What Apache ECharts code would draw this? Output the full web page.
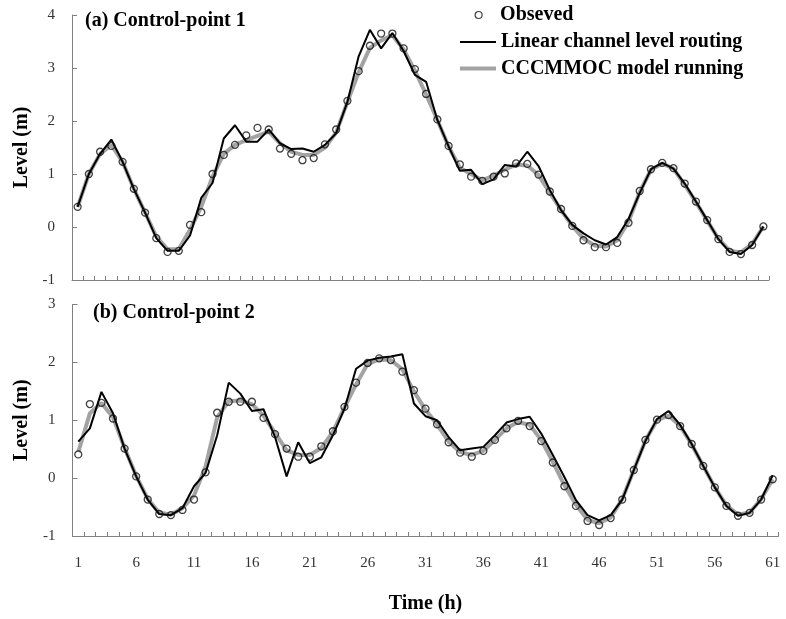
<!DOCTYPE html>
<html>
<head>
<meta charset="utf-8">
<script src="https://cdn.jsdelivr.net/npm/echarts@6/dist/echarts.min.js"></script>
<style>
  html, body { margin: 0; padding: 0; background: #fff; }
  #chart { width: 786px; height: 619px; }
</style>
</head>
<body>
<div id="chart"></div>
<script>
  // time steps (h)
  var hoursA = [1, 2, 3, 4, 5, 6, 7, 8, 9, 10, 11, 12, 13, 14, 15, 16, 17, 18, 19, 20,
    21, 22, 23, 24, 25, 26, 27, 28, 29, 30, 31, 32, 33, 34, 35, 36, 37, 38, 39, 40,
    41, 42, 43, 44, 45, 46, 47, 48, 49, 50, 51, 52, 53, 54, 55, 56, 57, 58, 59, 60, 61, 62];
  var hoursB = [1, 2, 3, 4, 5, 6, 7, 8, 9, 10, 11, 12, 13, 14, 15, 16, 17, 18, 19, 20,
    21, 22, 23, 24, 25, 26, 27, 28, 29, 30, 31, 32, 33, 34, 35, 36, 37, 38, 39, 40,
    41, 42, 43, 44, 45, 46, 47, 48, 49, 50, 51, 52, 53, 54, 55, 56, 57, 58, 59, 60, 61];

  // (a) Control-point 1
  var observedA = [0.38, 1.00, 1.42, 1.53, 1.23, 0.72, 0.27, -0.21, -0.47, -0.45,
    0.04, 0.28, 1.00, 1.36, 1.55, 1.73, 1.87, 1.84, 1.48, 1.38,
    1.26, 1.30, 1.56, 1.84, 2.38, 2.94, 3.42, 3.65, 3.65, 3.37,
    2.98, 2.51, 2.03, 1.53, 1.18, 0.95, 0.87, 0.95, 1.01, 1.20,
    1.19, 0.99, 0.67, 0.34, 0.02, -0.25, -0.38, -0.38, -0.30, 0.08,
    0.68, 1.09, 1.21, 1.11, 0.82, 0.48, 0.13, -0.23, -0.47, -0.51,
    -0.34, 0.01];
  var linearA = [0.38, 1.00, 1.38, 1.65, 1.23, 0.72, 0.27, -0.21, -0.45, -0.45,
    -0.16, 0.55, 0.83, 1.67, 1.92, 1.61, 1.61, 1.84, 1.58, 1.47,
    1.48, 1.42, 1.55, 1.77, 2.36, 3.22, 3.72, 3.37, 3.66, 3.32,
    2.87, 2.74, 2.02, 1.52, 1.06, 1.08, 0.81, 0.90, 1.17, 1.14,
    1.42, 1.15, 0.70, 0.32, 0.04, -0.12, -0.25, -0.33, -0.19, 0.15,
    0.64, 1.09, 1.21, 1.10, 0.82, 0.48, 0.13, -0.23, -0.47, -0.51,
    -0.34, 0.01];
  var modelA = [0.38, 1.00, 1.38, 1.55, 1.23, 0.72, 0.27, -0.18, -0.42, -0.42,
    -0.05, 0.38, 0.95, 1.38, 1.55, 1.64, 1.72, 1.80, 1.58, 1.42,
    1.36, 1.36, 1.50, 1.78, 2.36, 2.92, 3.38, 3.52, 3.62, 3.35,
    2.95, 2.50, 2.02, 1.52, 1.12, 1.00, 0.88, 0.97, 1.08, 1.18,
    1.16, 0.98, 0.65, 0.32, 0.02, -0.22, -0.35, -0.37, -0.25, 0.10,
    0.66, 1.08, 1.20, 1.10, 0.80, 0.47, 0.12, -0.22, -0.45, -0.48,
    -0.32, 0.01];

  // (b) Control-point 2
  var observedB = [0.41, 1.28, 1.30, 1.03, 0.51, 0.03, -0.37, -0.62, -0.64, -0.55,
    -0.37, 0.10, 1.13, 1.32, 1.32, 1.32, 1.04, 0.76, 0.51, 0.37,
    0.37, 0.55, 0.81, 1.23, 1.65, 1.99, 2.07, 2.04, 1.84, 1.52,
    1.20, 0.93, 0.62, 0.44, 0.37, 0.47, 0.66, 0.86, 0.99, 0.90,
    0.64, 0.27, -0.14, -0.48, -0.74, -0.81, -0.69, -0.37, 0.14, 0.66,
    1.01, 1.09, 0.90, 0.59, 0.21, -0.16, -0.48, -0.65, -0.60, -0.37,
    -0.02];
  var linearB = [0.63, 0.86, 1.49, 1.12, 0.51, 0.03, -0.37, -0.62, -0.64, -0.52,
    -0.14, 0.09, 0.74, 1.65, 1.46, 1.16, 1.19, 0.71, 0.03, 0.62,
    0.26, 0.36, 0.74, 1.20, 1.89, 2.03, 2.08, 2.10, 2.14, 1.29,
    1.07, 1.00, 0.71, 0.48, 0.51, 0.54, 0.74, 0.96, 1.02, 1.06,
    0.77, 0.40, 0.02, -0.38, -0.64, -0.73, -0.64, -0.37, 0.14, 0.64,
    1.02, 1.16, 0.92, 0.59, 0.21, -0.16, -0.48, -0.65, -0.60, -0.37,
    0.05];
  var modelB = [0.45, 1.12, 1.30, 1.05, 0.52, 0.04, -0.36, -0.60, -0.63, -0.52,
    -0.30, 0.20, 1.05, 1.33, 1.34, 1.28, 1.08, 0.78, 0.48, 0.40,
    0.40, 0.52, 0.80, 1.22, 1.62, 1.97, 2.05, 2.04, 1.88, 1.50,
    1.18, 0.93, 0.63, 0.45, 0.40, 0.47, 0.66, 0.86, 0.97, 0.92,
    0.66, 0.28, -0.12, -0.46, -0.72, -0.78, -0.68, -0.36, 0.14, 0.65,
    1.00, 1.08, 0.90, 0.58, 0.21, -0.16, -0.47, -0.63, -0.60, -0.36,
    -0.02];

  var serif = 'Liberation Serif';
  var axisGray = '#808080';
  var modelGray = '#a3a3a3';

  function xAxisFor(gridIndex, cats, showLabels) {
    return {
      type: 'category',
      gridIndex: gridIndex,
      data: cats,
      boundaryGap: true,
      axisLine: { onZero: false, lineStyle: { color: axisGray, width: 1 } },
      axisTick: { show: true, inside: true, length: 4, interval: 0, lineStyle: { color: axisGray } },
      axisLabel: {
        show: showLabels, interval: 4, margin: 20,
        fontFamily: serif, fontSize: 15, color: '#333'
      },
      name: showLabels ? 'Time (h)' : '',
      nameLocation: 'middle',
      nameGap: 58,
      nameTextStyle: { fontFamily: serif, fontSize: 20, fontWeight: 'bold', color: '#000' },
      splitLine: { show: false }
    };
  }

  function yAxisFor(gridIndex, max) {
    return {
      type: 'value',
      gridIndex: gridIndex,
      min: -1,
      max: max,
      interval: 1,
      axisLine: { show: true, lineStyle: { color: axisGray, width: 1 } },
      axisTick: { show: true, inside: true, length: 5, lineStyle: { color: axisGray } },
      axisLabel: { margin: 17, fontFamily: serif, fontSize: 15, color: '#333' },
      splitLine: { show: false },
      name: 'Level (m)',
      nameLocation: 'middle',
      nameGap: 38,
      nameTextStyle: { fontFamily: serif, fontSize: 20, fontWeight: 'bold', color: '#000' }
    };
  }

  function panelSeries(idx, obs, lin, mod) {
    return [
      {
        name: 'CCCMMOC model running', type: 'line', xAxisIndex: idx, yAxisIndex: idx,
        data: mod, symbol: 'none',
        itemStyle: { color: modelGray },
        lineStyle: { color: modelGray, width: 4 }, z: 2
      },
      {
        name: 'Linear channel level routing', type: 'line', xAxisIndex: idx, yAxisIndex: idx,
        data: lin, symbol: 'none',
        itemStyle: { color: '#000' },
        lineStyle: { color: '#000', width: 2 }, z: 3
      },
      {
        name: 'Obseved', type: 'scatter', xAxisIndex: idx, yAxisIndex: idx,
        data: obs, symbol: 'circle', symbolSize: 7,
        itemStyle: { color: 'rgba(255,255,255,0)', borderColor: '#111', borderWidth: 1.3 }, z: 4
      }
    ];
  }

  var chart = echarts.init(document.getElementById('chart'), null, { renderer: 'canvas' });
  chart.setOption({
    animation: false,
    backgroundColor: '#fff',
    title: [
      { text: '(a) Control-point 1', left: 85, top: 11, padding: 0,
        textStyle: { fontFamily: serif, fontSize: 20, fontWeight: 'bold', color: '#000' } },
      { text: '(b) Control-point 2', left: 93, top: 303, padding: 0,
        textStyle: { fontFamily: serif, fontSize: 20, fontWeight: 'bold', color: '#000' } }
    ],
    legend: [
      {
        left: 474.5, top: 5, orient: 'vertical', padding: 0,
        itemWidth: 7, itemHeight: 7, selectedMode: false,
        textStyle: { fontFamily: serif, fontSize: 20, fontWeight: 'bold', color: '#000',
          lineHeight: 20, padding: [0, 0, 0, 13] },
        data: [{ name: 'Obseved', icon: 'circle',
          itemStyle: { color: '#fff', borderColor: '#111', borderWidth: 1.2 } }]
      },
      {
        left: 460, top: 32, orient: 'vertical', padding: 0,
        itemWidth: 36, itemHeight: 14, itemGap: 6.5, selectedMode: false,
        textStyle: { fontFamily: serif, fontSize: 20, fontWeight: 'bold', color: '#000', lineHeight: 20 },
        data: [
          { name: 'Linear channel level routing', icon: 'path://M0,0H36V2H0Z' },
          { name: 'CCCMMOC model running', icon: 'path://M0,0H36V4H0Z' }
        ]
      }
    ],
    grid: [
      { left: 72, top: 15, width: 697, height: 265 },
      { left: 72.5, top: 304.5, width: 706, height: 231.5 }
    ],
    xAxis: [xAxisFor(0, hoursA, false), xAxisFor(1, hoursB, true)],
    yAxis: [yAxisFor(0, 4), yAxisFor(1, 3)],
    series: panelSeries(0, observedA, linearA, modelA).concat(panelSeries(1, observedB, linearB, modelB))
  });
</script>
</body>
</html>
